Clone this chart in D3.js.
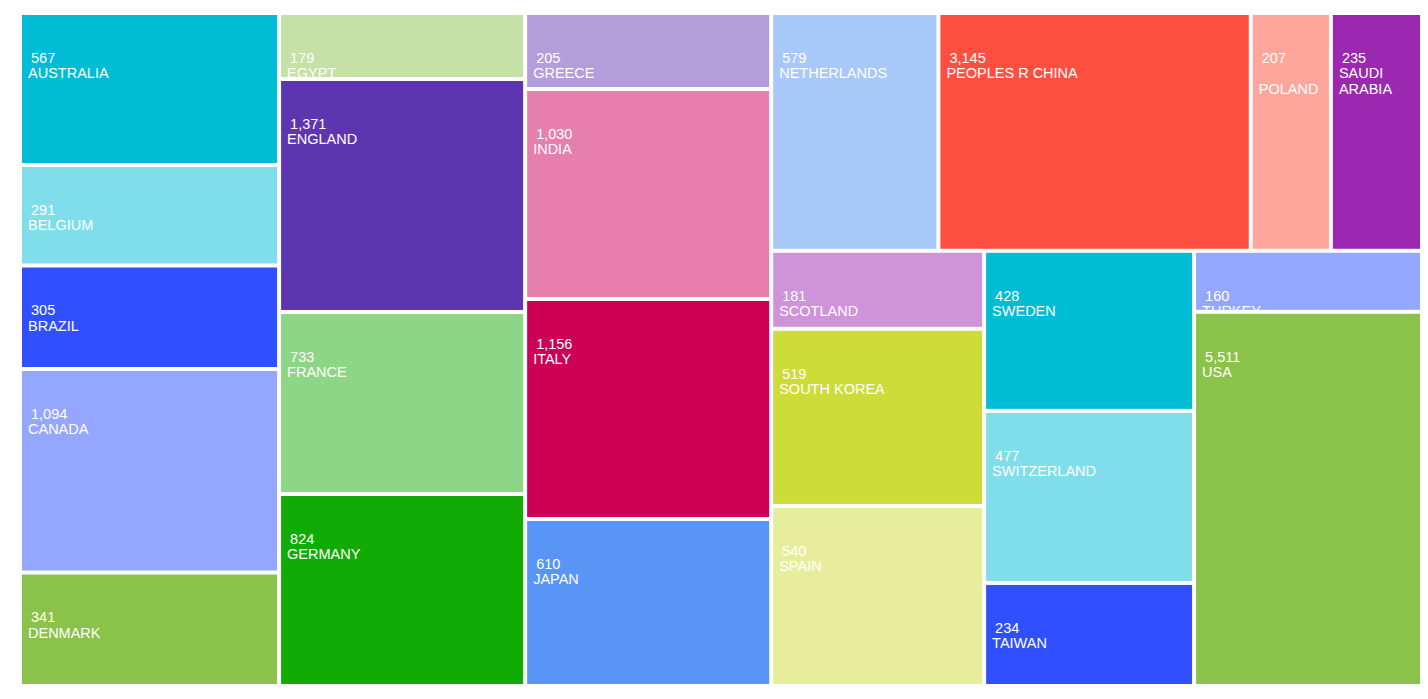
<!DOCTYPE html>
<html>
<head>
<meta charset="utf-8">
<script src="https://cdn.jsdelivr.net/npm/d3@7"></script>
<style>
  html, body { margin: 0; padding: 0; background: #fff; }
  svg { display: block; }
  text { font-family: Helvetica, Arial, "Liberation Sans", sans-serif; font-size: 14.5px; fill: #fff; }
</style>
</head>
<body>
<svg id="chart" width="1428" height="699"></svg>
<script>
const countries = ["AUSTRALIA","BELGIUM","BRAZIL","CANADA","DENMARK","EGYPT","ENGLAND","FRANCE","GERMANY","GREECE","INDIA","ITALY","JAPAN","NETHERLANDS","PEOPLES R CHINA","POLAND","SAUDI ARABIA","SCOTLAND","SOUTH KOREA","SPAIN","SWEDEN","SWITZERLAND","TAIWAN","TURKEY","USA"];
const labelValues = [567,291,305,1094,341,179,1371,733,824,205,1030,1156,610,579,3145,207,235,181,519,540,428,477,234,160,5511];
// relative tile sizes, estimated from the areas in the picture
const areaWeights = [393.7,260.3,268.1,527.1,294.0,162.4,573.2,447.7,472.3,187.0,516.6,541.2,410.8,397.5,742.6,190.4,216.6,166.1,377.0,383.4,336.0,361.2,216.3,139.1,852.7];
const colors = ["#00BCD4","#80DEEA","#304FFE","#95A6FF","#8BC34A","#C5E1A5","#5E35B1","#8CD685","#12AB05","#B39DDB","#E67FAB","#CC0055","#5895F6","#A8C8FA","#FF4F40","#FFA69C","#9C27B0","#CE93D8","#CDDC39","#E6EE9C","#00BCD4","#80DEEA","#304FFE","#95A6FF","#8BC34A"];

const svg = d3.select("#chart");
const g = svg.append("g").attr("transform", "translate(20,13)");

const root = d3.hierarchy({
  children: countries.map((c, i) => ({ name: c, label: labelValues[i], weight: areaWeights[i], color: colors[i] }))
}).sum(d => d.weight || 0);

d3.treemap().size([1402, 673]).tile(d3.treemapSquarify)(root);

const fmt = d3.format(",");
const leaves = root.leaves();

const cell = g.selectAll("g.cell").data(leaves).join("g").attr("class", "cell");

cell.append("clipPath")
  .attr("id", (d, i) => "clip" + i)
  .append("rect")
  .attr("x", d => d.x0 + 2).attr("y", d => d.y0 + 2)
  .attr("width", d => d.x1 - d.x0 - 4).attr("height", d => d.y1 - d.y0 - 4);

cell.append("rect")
  .attr("x", d => d.x0 + 2).attr("y", d => d.y0 + 2)
  .attr("width", d => d.x1 - d.x0 - 4).attr("height", d => d.y1 - d.y0 - 4)
  .attr("fill", d => d.data.color);

cell.each(function(d, i) {
  const text = d3.select(this).append("text").attr("clip-path", "url(#clip" + i + ")");
  text.append("tspan").attr("x", d.x0 + 11).attr("y", d.y0 + 50).text(fmt(d.data.label));
  const avail = (d.x1 - d.x0) - 40;
  const words = d.data.name.split(/\s+/);
  let line = [];
  let tspan = text.append("tspan").attr("x", d.x0 + 8).attr("dy", "15.4px");
  for (const word of words) {
    line.push(word);
    tspan.text(line.join(" "));
    if (tspan.node().getComputedTextLength() > avail) {
      line.pop();
      tspan.text(line.length ? line.join(" ") : "\u00A0");
      line = [word];
      tspan = text.append("tspan").attr("x", d.x0 + 8).attr("dy", "15.4px").text(word);
    }
  }
});
</script>
</body>
</html>
